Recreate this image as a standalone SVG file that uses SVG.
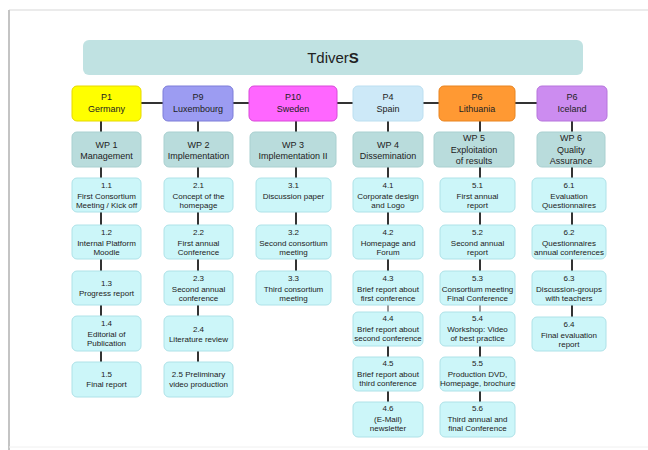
<svg xmlns="http://www.w3.org/2000/svg" width="648" height="450" viewBox="0 0 648 450">
<style>
text{font-family:"Liberation Sans",Arial,sans-serif;fill:#222;text-anchor:middle}
.t{font-size:8px}
.p{font-size:9px}
.task{fill:#ccf6f9;stroke:#aee2e8;stroke-width:1}
.wp{fill:#b9dcdc;stroke:#a9d0d0;stroke-width:1}
.c{stroke:#333;stroke-width:2;fill:none}
.ct{stroke:#333;stroke-width:1;fill:none}
</style>
<rect width="648" height="450" fill="#fff"/>
<g id="frame">
<line x1="9" y1="10" x2="648" y2="10" stroke="#e4e4e4" stroke-width="1.5"/>
<line x1="9" y1="10" x2="9" y2="450" stroke="#c4c4c4" stroke-width="2"/>
<line x1="9" y1="447" x2="648" y2="447" stroke="#f0f0f0" stroke-width="1"/>
</g>
<g id="connectors">
<line class="c" x1="141" y1="103" x2="537" y2="103"/>
<path class="c" d="M101 121V132M101 167V178M101 212V225M101 259V271M101 305V316M101 351V362"/>
<path class="c" d="M198 121V132M198 167V178M198 212V225M198 259V271M198 305V316M198 351V362"/>
<path class="c" d="M296 121V132M296 167V178M296 212V225M296 259V271"/>
<path class="c" d="M388 121V132M388 167V178M388 212V225M388 259V271M388 346V357M388 391V402"/>
<path class="ct" d="M388 305V312"/>
<path class="c" d="M480 121V132M480 167V178M480 212V225M480 259V271M480 346V357M480 391V402"/>
<path class="ct" d="M480 305V312"/>
<path class="c" d="M572 121V132M572 167V178M572 212V225M572 259V271M572 305V317"/>
</g>
<g id="title"><rect x="83" y="40" width="500" height="35" rx="6" fill="#c0e2e2"/><text x="333" y="63" style="font-size:15px">Tdiver<tspan font-weight="bold">S</tspan></text></g>
<g id="p1"><rect x="72" y="86" width="69" height="35" rx="5" fill="#ffff00" stroke="#e6d800"/><text class="p" x="106.5" y="100">P1</text><text class="p" x="106.5" y="112">Germany</text></g>
<g id="p9"><rect x="163" y="86" width="70" height="35" rx="5" fill="#9c9cf2" stroke="#7c7cd8"/><text class="p" x="198" y="100">P9</text><text class="p" x="198" y="112">Luxembourg</text></g>
<g id="p10"><rect x="249" y="86" width="88" height="35" rx="5" fill="#ff66ff" stroke="#d848d8"/><text class="p" x="293" y="100">P10</text><text class="p" x="293" y="112">Sweden</text></g>
<g id="p4"><rect x="353" y="86" width="70" height="35" rx="5" fill="#cde9f8" stroke="#bcdff0"/><text class="p" x="388" y="100">P4</text><text class="p" x="388" y="112">Spain</text></g>
<g id="p6l"><rect x="439" y="86" width="76" height="35" rx="5" fill="#ff9933" stroke="#e88420"/><text class="p" x="477" y="100">P6</text><text class="p" x="477" y="112">Lithuania</text></g>
<g id="p6i"><rect x="537" y="86" width="70" height="35" rx="5" fill="#cc8cf0" stroke="#b674dc"/><text class="p" x="572" y="100">P6</text><text class="p" x="572" y="112">Iceland</text></g>
<g id="wp1"><rect class="wp" x="72" y="132" width="69" height="35" rx="5"/><text class="p" x="106.5" y="148">WP 1</text><text class="p" x="106.5" y="159">Management</text></g>
<g id="wp2"><rect class="wp" x="164" y="132" width="69" height="35" rx="5"/><text class="p" x="198.5" y="148">WP 2</text><text class="p" x="198.5" y="159">Implementation</text></g>
<g id="wp3"><rect class="wp" x="250" y="132" width="86" height="35" rx="5"/><text class="p" x="293" y="148">WP 3</text><text class="p" x="293" y="159">Implementation  II</text></g>
<g id="wp4"><rect class="wp" x="353" y="132" width="70" height="35" rx="5"/><text class="p" x="388" y="148">WP 4</text><text class="p" x="388" y="159">Dissemination</text></g>
<g id="wp5"><rect class="wp" x="434" y="132" width="80" height="35" rx="5"/><text class="p" x="474" y="141">WP 5</text><text class="p" x="474" y="153">Exploitation</text><text class="p" x="474" y="164">of results</text></g>
<g id="wp6"><rect class="wp" x="537" y="132" width="68" height="35" rx="5"/><text class="p" x="571" y="141">WP 6</text><text class="p" x="571" y="153">Quality</text><text class="p" x="571" y="164">Assurance</text></g>
<g id="t11"><rect class="task" x="72" y="178" width="69" height="34" rx="5"/><text class="t" x="106.5" y="188">1.1</text><text class="t" x="106.5" y="198.5">First Consortium</text><text class="t" x="106.5" y="208">Meeting / Kick off</text></g>
<g id="t12"><rect class="task" x="72" y="225" width="69" height="34" rx="5"/><text class="t" x="106.5" y="235">1.2</text><text class="t" x="106.5" y="245.5">Internal  Platform</text><text class="t" x="106.5" y="255">Moodle</text></g>
<g id="t13"><rect class="task" x="72" y="271" width="69" height="34" rx="5"/><text class="t" x="106.5" y="286">1.3</text><text class="t" x="106.5" y="296">Progress report</text></g>
<g id="t14"><rect class="task" x="72" y="316" width="69" height="35" rx="5"/><text class="t" x="106.5" y="326">1.4</text><text class="t" x="106.5" y="336.5">Editorial of</text><text class="t" x="106.5" y="346">Publication</text></g>
<g id="t15"><rect class="task" x="72" y="362" width="69" height="35" rx="5"/><text class="t" x="106.5" y="377">1.5</text><text class="t" x="106.5" y="387">Final report</text></g>
<g id="t21"><rect class="task" x="164" y="178" width="69" height="34" rx="5"/><text class="t" x="198.5" y="188">2.1</text><text class="t" x="198.5" y="198.5">Concept of the</text><text class="t" x="198.5" y="208">homepage</text></g>
<g id="t22"><rect class="task" x="164" y="225" width="69" height="34" rx="5"/><text class="t" x="198.5" y="235">2.2</text><text class="t" x="198.5" y="245.5">First annual</text><text class="t" x="198.5" y="255">Conference</text></g>
<g id="t23"><rect class="task" x="164" y="271" width="69" height="34" rx="5"/><text class="t" x="198.5" y="281">2.3</text><text class="t" x="198.5" y="291.5">Second annual</text><text class="t" x="198.5" y="301">conference</text></g>
<g id="t24"><rect class="task" x="164" y="316" width="69" height="35" rx="5"/><text class="t" x="198.5" y="332">2.4</text><text class="t" x="198.5" y="342">Literature  review</text></g>
<g id="t25"><rect class="task" x="164" y="362" width="69" height="35" rx="5"/><text class="t" x="198.5" y="377">2.5 Preliminary</text><text class="t" x="198.5" y="387">video production</text></g>
<g id="t31"><rect class="task" x="256" y="178" width="75" height="34" rx="5"/><text class="t" x="293.5" y="188">3.1</text><text class="t" x="293.5" y="198.5">Discussion paper</text></g>
<g id="t32"><rect class="task" x="256" y="225" width="75" height="34" rx="5"/><text class="t" x="293.5" y="235">3.2</text><text class="t" x="293.5" y="245.5">Second consortium</text><text class="t" x="293.5" y="255">meeting</text></g>
<g id="t33"><rect class="task" x="256" y="271" width="75" height="34" rx="5"/><text class="t" x="293.5" y="281">3.3</text><text class="t" x="293.5" y="291.5">Third consortium</text><text class="t" x="293.5" y="301">meeting</text></g>
<g id="t41"><rect class="task" x="353" y="178" width="70" height="34" rx="5"/><text class="t" x="388" y="188">4.1</text><text class="t" x="388" y="198.5">Corporate design</text><text class="t" x="388" y="208">and Logo</text></g>
<g id="t42"><rect class="task" x="353" y="225" width="70" height="34" rx="5"/><text class="t" x="388" y="235">4.2</text><text class="t" x="388" y="245.5">Homepage and</text><text class="t" x="388" y="255">Forum</text></g>
<g id="t43"><rect class="task" x="353" y="271" width="70" height="34" rx="5"/><text class="t" x="388" y="281">4.3</text><text class="t" x="388" y="291.5">Brief report about</text><text class="t" x="388" y="301">first conference</text></g>
<g id="t44"><rect class="task" x="353" y="312" width="70" height="34" rx="5"/><text class="t" x="388" y="321">4.4</text><text class="t" x="388" y="331.5">Brief report about</text><text class="t" x="388" y="341">second conference</text></g>
<g id="t45"><rect class="task" x="353" y="357" width="70" height="34" rx="5"/><text class="t" x="388" y="366">4.5</text><text class="t" x="388" y="376.5">Brief report about</text><text class="t" x="388" y="386">third conference</text></g>
<g id="t46"><rect class="task" x="353" y="402" width="70" height="35" rx="5"/><text class="t" x="388" y="411">4.6</text><text class="t" x="388" y="421.5">(E-Mail)</text><text class="t" x="388" y="431">newsletter</text></g>
<g id="t51"><rect class="task" x="440" y="178" width="75" height="34" rx="5"/><text class="t" x="477.5" y="188">5.1</text><text class="t" x="477.5" y="198.5">First annual</text><text class="t" x="477.5" y="208">report</text></g>
<g id="t52"><rect class="task" x="440" y="225" width="75" height="34" rx="5"/><text class="t" x="477.5" y="235">5.2</text><text class="t" x="477.5" y="245.5">Second annual</text><text class="t" x="477.5" y="255">report</text></g>
<g id="t53"><rect class="task" x="440" y="271" width="75" height="34" rx="5"/><text class="t" x="477.5" y="281">5.3</text><text class="t" x="477.5" y="291.5">Consortium meeting</text><text class="t" x="477.5" y="301">Final Conference</text></g>
<g id="t54"><rect class="task" x="440" y="312" width="75" height="34" rx="5"/><text class="t" x="477.5" y="321">5.4</text><text class="t" x="477.5" y="331.5">Workshop: Video</text><text class="t" x="477.5" y="341">of best practice</text></g>
<g id="t55"><rect class="task" x="440" y="357" width="75" height="34" rx="5"/><text class="t" x="477.5" y="366">5.5</text><text class="t" x="477.5" y="376.5">Production DVD,</text><text class="t" x="477.5" y="386">Homepage, brochure</text></g>
<g id="t56"><rect class="task" x="440" y="402" width="75" height="35" rx="5"/><text class="t" x="477.5" y="411">5.6</text><text class="t" x="477.5" y="421.5">Third annual and</text><text class="t" x="477.5" y="431">final Conference</text></g>
<g id="t61"><rect class="task" x="532" y="178" width="74" height="34" rx="5"/><text class="t" x="569" y="188">6.1</text><text class="t" x="569" y="198.5">Evaluation</text><text class="t" x="569" y="208">Questionnaires</text></g>
<g id="t62"><rect class="task" x="532" y="225" width="74" height="34" rx="5"/><text class="t" x="569" y="235">6.2</text><text class="t" x="569" y="245.5">Questionnaires</text><text class="t" x="569" y="255">annual  conferences</text></g>
<g id="t63"><rect class="task" x="532" y="271" width="74" height="34" rx="5"/><text class="t" x="569" y="281">6.3</text><text class="t" x="569" y="291.5">Discussion-groups</text><text class="t" x="569" y="301">with teachers</text></g>
<g id="t64"><rect class="task" x="532" y="317" width="74" height="34" rx="5"/><text class="t" x="569" y="327">6.4</text><text class="t" x="569" y="337.5">Final evaluation</text><text class="t" x="569" y="347">report</text></g>
</svg>
